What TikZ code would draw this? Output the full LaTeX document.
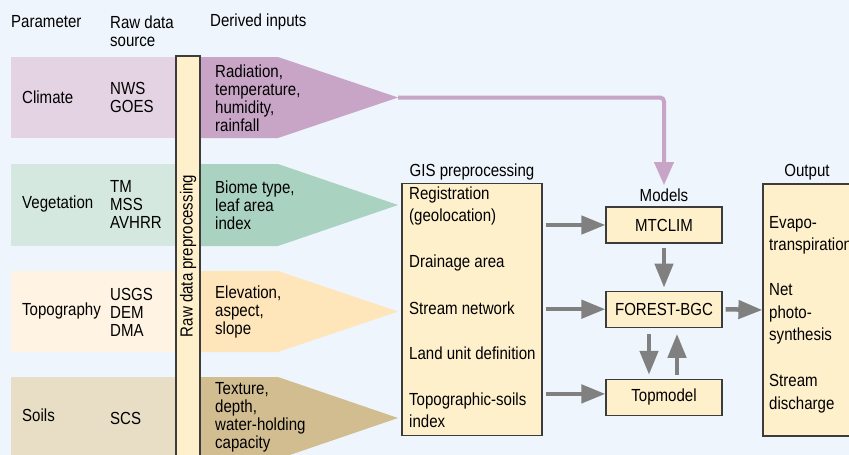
\documentclass[tikz,border=0pt]{standalone}
\usepackage{fontspec}
\setmainfont{Liberation Sans}[FakeStretch=0.86]
\usepackage{tikz}
\usetikzlibrary{arrows.meta,positioning}
\definecolor{PageBlue}{HTML}{EEF5FC}
\definecolor{ClimLight}{HTML}{E3D3E3}
\definecolor{ClimDark}{HTML}{C8A5C7}
\definecolor{VegLight}{HTML}{D5E8E0}
\definecolor{VegDark}{HTML}{AAD2C1}
\definecolor{TopoLight}{HTML}{FFF3E3}
\definecolor{TopoDark}{HTML}{FFE5BA}
\definecolor{SoilLight}{HTML}{E8DDC5}
\definecolor{SoilDark}{HTML}{D2BD91}
\definecolor{BoxFill}{HTML}{FFF0CC}
\definecolor{EdgeGray}{HTML}{3C3C3C}
\definecolor{ArrGray}{HTML}{808080}

\begin{document}
\begin{tikzpicture}[
    x=1pt, y=-1pt,
    font=\fontsize{17.5}{18}\selectfont,
    lbl/.style={anchor=west, align=left, inner sep=0pt},
    itemtxt/.style={lbl, font=\fontsize{17.5}{22.5}\selectfont},
    rawbar/.style={draw=EdgeGray, line width=1.2pt, fill=BoxFill, rotate=90, minimum width=400pt, minimum height=24pt, inner sep=0pt},
    gisbox/.style={draw=EdgeGray, line width=1.2pt, fill=BoxFill, minimum width=140pt, minimum height=252pt, inner sep=0pt},
    modelbox/.style={draw=EdgeGray, line width=1.2pt, fill=BoxFill, minimum width=116pt, minimum height=36pt, inner sep=0pt},
    garr/.style={-{Triangle[length=24pt,width=18pt]}, line width=4.5pt, draw=ArrGray},
    parr/.style={-{Triangle[length=23pt,width=19pt]}, line width=4pt, draw=ClimDark, rounded corners=4pt}
]
% 背景与裁剪
\fill[PageBlue] (0,0) rectangle (849,455);
\clip (0,0) rectangle (849,455);

% 表头
\node[lbl] (parhead) at (11,22) {Parameter};
\node[lbl] (srchead) at (110,31) {Raw data\\source};
\node[lbl] (derhead) at (210,22) {Derived inputs};

% 四条参数色带：浅色底条 + 深色箭形
\fill[ClimLight] (11,57) rectangle (200,138);
\fill[ClimDark] (200,57) -- (278,57) -- (398,97.5) -- (278,138) -- (200,138) -- cycle;
\coordinate (climtip) at (398,97.5);
\fill[VegLight] (11,164) rectangle (200,246);
\fill[VegDark] (200,164) -- (278,164) -- (398,205) -- (278,246) -- (200,246) -- cycle;
\fill[TopoLight] (11,271) rectangle (200,352);
\fill[TopoDark] (200,271) -- (278,271) -- (398,311.5) -- (278,352) -- (200,352) -- cycle;
\fill[SoilLight] (11,377) rectangle (200,459);
\fill[SoilDark] (200,377) -- (278,377) -- (398,418) -- (278,459) -- (200,459) -- cycle;

% 原始数据预处理竖条
\node[rawbar] (rawpre) at (188,256) {Raw data preprocessing};

% 色带文字
\node[lbl] (climate) at (22,97) {Climate};
\node[lbl] (climsrc) at (110,97) {NWS\\GOES};
\node[lbl] (climder) at (215,98) {Radiation,\\temperature,\\humidity,\\rainfall};
\node[lbl] (veget) at (22,204) {Vegetation};
\node[lbl] (vegsrc) at (110,204) {TM\\MSS\\AVHRR};
\node[lbl] (vegder) at (215,205) {Biome type,\\leaf area\\index};
\node[lbl] (topo) at (22,311) {Topography};
\node[lbl] (toposrc) at (110,312) {USGS\\DEM\\DMA};
\node[lbl] (topoder) at (215,312) {Elevation,\\aspect,\\slope};
\node[lbl] (soils) at (22,415) {Soils};
\node[lbl] (soilsrc) at (110,418) {SCS};
\node[lbl] (soilder) at (215,417) {Texture,\\depth,\\water-holding\\capacity};

% GIS 预处理框
\node[gisbox] (gis) at (472,309.5) {};
\node[above=3pt of gis, inner sep=0pt] (gistitle) {GIS preprocessing};
\node[itemtxt] (regist) at (409,206) {Registration\\(geolocation)};
\node[itemtxt] (drain) at (409,263) {Drainage area};
\node[itemtxt] (stream) at (409,308) {Stream network};
\node[itemtxt] (landunit) at (409,353) {Land unit definition};
\node[itemtxt] (topsoil) at (409,410) {Topographic-soils\\index};

% 模型
\node[modelbox] (mtclim) at (664,225) {MTCLIM};
\node[modelbox, below=47pt of mtclim] (forest) {FOREST-BGC};
\node[modelbox, below=51pt of forest] (topmodel) {Topmodel};
\node[above=5pt of mtclim, inner sep=0pt] (models) {Models};

% 输出框
\node[gisbox, minimum width=88pt] (output) at (807,310) {};
\node[above=3pt of output, inner sep=0pt] (outtitle) {Output};
\node[itemtxt] (evapo) at (769,235.5) {Evapo-\\transpiration};
\node[itemtxt] (netps) at (769,314) {Net\\photo-\\synthesis};
\node[itemtxt] (dischg) at (769,393.5) {Stream\\discharge};

% 连线
\draw[parr, shorten >=3pt] (climtip) -| (models.north);
\draw[garr, shorten <=3pt] (gis.east |- mtclim.west) -- (mtclim.west);
\draw[garr, shorten <=3pt] (gis.east |- forest.west) -- (forest.west);
\draw[garr, shorten <=3pt] ([yshift=3.5pt]gis.east |- topmodel.west) -- ([yshift=3.5pt]topmodel.west);
\draw[garr, shorten <=4pt, shorten >=3pt] (mtclim.south) -- (forest.north);
\draw[garr, shorten <=6pt, shorten >=4pt] ([xshift=-15pt]forest.south) -- ([xshift=-15pt]topmodel.north);
\draw[garr, shorten <=4pt, shorten >=6pt] ([xshift=13pt]topmodel.north) -- ([xshift=13pt]forest.south);
\draw[garr, shorten <=3pt] (forest.east) -- (output.west);
\end{tikzpicture}
\end{document}
